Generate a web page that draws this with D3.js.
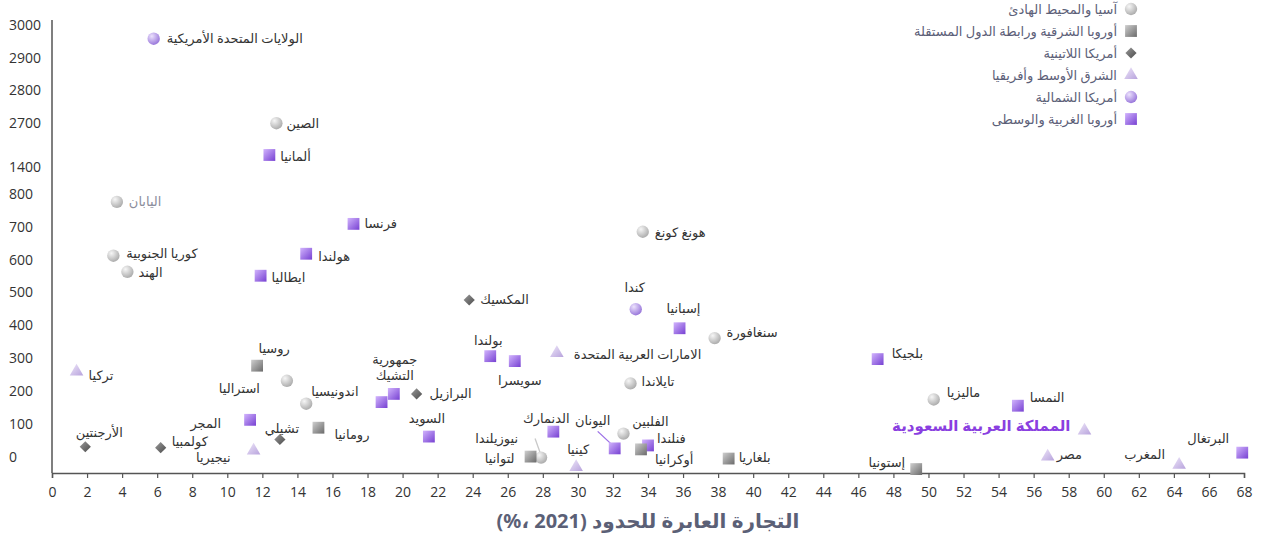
<!DOCTYPE html>
<html lang="ar">
<head>
    <meta charset="UTF-8">
    <title>التجارة العابرة للحدود</title>
    <script src="https://cdn.jsdelivr.net/npm/d3@7.8.5/dist/d3.min.js"></script>
    <style>
        body { margin: 0; background: #fff; }
        text { font-family: "Noto Sans", "DejaVu Sans", sans-serif; }
    </style>
</head>
<body>
<div id="chart"></div>
<script type="text/javascript">
    // regions (legend order)
    const regions = ["asia", "easteu", "latam", "mea", "namerica", "westeu"];
    const regionNames = ["آسيا والمحيط الهادئ", "أوروبا الشرقية ورابطة الدول المستقلة", "أمريكا اللاتينية",
        "الشرق الأوسط وأفريقيا", "أمريكا الشمالية", "أوروبا الغربية والوسطى"];

    // countries: name, region, cross-border trade (% 2021), value
    const countries = ["الولايات المتحدة الأمريكية", "الصين", "ألمانيا", "اليابان", "فرنسا", "كوريا الجنوبية",
        "هولندا", "الهند", "ايطاليا", "هونغ كونغ", "المكسيك", "كندا", "إسبانيا", "سنغافورة", "بلجيكا",
        "بولندا", "سويسرا", "الامارات العربية المتحدة", "تايلاندا", "تركيا", "روسيا", "استراليا",
        "اندونيسيا", "جمهورية التشيك", "", "البرازيل", "السويد", "المجر", "رومانيا", "تشيلي", "نيجيريا",
        "كولمبيا", "الأرجنتين", "الدنمارك", "اليونان", "الفلبين", "فنلندا", "أوكرانيا", "بلغاريا", "كينيا",
        "نيوزيلندا", "لتوانيا", "إستونيا", "ماليزيا", "النمسا", "المملكة العربية السعودية", "مصر",
        "المغرب", "البرتغال"];
    const countryRegion = ["namerica", "asia", "westeu", "asia", "westeu", "asia",
        "westeu", "asia", "westeu", "asia", "latam", "namerica", "westeu", "asia", "westeu",
        "westeu", "westeu", "mea", "asia", "mea", "easteu", "asia",
        "asia", "westeu", "westeu", "latam", "westeu", "westeu", "easteu", "latam", "mea",
        "latam", "latam", "westeu", "westeu", "asia", "westeu", "easteu", "easteu", "mea",
        "asia", "easteu", "easteu", "asia", "westeu", "mea", "mea",
        "mea", "westeu"];
    const crossBorder = [5.8, 12.8, 12.4, 3.7, 17.2, 3.5,
        14.5, 4.3, 11.9, 33.7, 23.8, 33.3, 35.8, 37.8, 47.1,
        25.0, 26.4, 28.8, 33.0, 1.4, 11.7, 13.4,
        14.5, 19.5, 18.8, 20.8, 21.5, 11.3, 15.2, 13.0, 11.5,
        6.2, 1.9, 28.6, 32.1, 32.6, 34.0, 33.6, 38.6, 29.9,
        27.9, 27.3, 49.3, 50.3, 55.1, 58.9, 56.8,
        64.3, 67.9];
    const values = [2958, 2694, 1755, 776, 709, 612,
        618, 563, 551, 685, 477, 449, 391, 361, 297,
        306, 291, 315, 223, 259, 277, 231,
        161, 191, 166, 191, 61, 112, 88, 52, 18,
        27, 30, 76, 25, 70, 34, 22, -6, -32,
        -3, 0, -38, 174, 155, 79, 0,
        -25, 12];

    const xTicks = d3.range(0, 69, 2);
    const yTicks = [0, 100, 200, 300, 400, 500, 600, 700, 800, 1400, 2700, 2800, 2900, 3000];
    const xTitle = "التجارة العابرة للحدود";
    // unit part, in visual left-to-right order
    const xUnitParts = ["(", "%", "،", "\u00a02021", ")"];

    // label placement: [anchor, dx, dy]  (anchor: l = left edge, r = right edge, m = middle)
    const labelPos = {
        "الولايات المتحدة الأمريكية": ["l", 13, 0], "الصين": ["l", 10, 0], "ألمانيا": ["l", 11, 1],
        "اليابان": ["l", 12, 0], "فرنسا": ["l", 11, 0], "كوريا الجنوبية": ["l", 13, -2],
        "هولندا": ["l", 12, 3], "الهند": ["l", 11, 1], "ايطاليا": ["l", 11, 2], "هونغ كونغ": ["l", 12, 1],
        "المكسيك": ["l", 11, -1], "كندا": ["m", -1, -22], "إسبانيا": ["m", 4, -20], "سنغافورة": ["l", 12, -6],
        "بلجيكا": ["l", 14, -6], "بولندا": ["m", -2, -16], "سويسرا": ["m", 5, 19],
        "الامارات العربية المتحدة": ["l", 17, 1], "تايلاندا": ["l", 11, -2], "تركيا": ["l", 12, 4],
        "روسيا": ["m", 17, -17], "استراليا": ["r", -27, 8], "اندونيسيا": ["l", 5, -12],
        "البرازيل": ["l", 13, 0], "السويد": ["m", -2, -18],
        "المجر": ["r", -29, 4], "رومانيا": ["l", 16, 7], "تشيلي": ["m", 2, -11], "نيجيريا": ["r", -23, 7],
        "كولمبيا": ["l", 11, -6], "الأرجنتين": ["m", 14, -14], "الدنمارك": ["m", -7, -13],
        "اليونان": ["m", -22, -28], "الفلبين": ["m", 27, -12], "فنلندا": ["l", 9, -7],
        "أوكرانيا": ["l", 14, 10], "بلغاريا": ["l", 10, -1], "كينيا": ["m", 2, -18],
        "نيوزيلندا": ["r", -23, -19], "لتوانيا": ["r", -16, 2], "إستونيا": ["r", -11, -7],
        "ماليزيا": ["l", 13, -7], "النمسا": ["l", 12, -8], "المملكة العربية السعودية": ["r", -14, -5],
        "مصر": ["l", 9, -2], "المغرب": ["r", -14, -10], "البرتغال": ["r", -13, -14]
    };
    // two-line label
    const czechLines = [["جمهورية", 1, -34], ["التشيك", 1, -18]];
    const leaders = {"اليونان": [[-17, -17], [-2, -3]], "نيوزيلندا": [[-6, -19], [-1, -5]]};

    const data = countries.map((name, i) => ({name, region: countryRegion[i], x: crossBorder[i], y: values[i]}));

    const width = 1267, height = 534;
    const x = d3.scaleLinear().domain([0, 68]).range([52, 1244]);
    const y = d3.scaleLinear().domain([-50, 800, 1400, 2700, 3000]).range([473, 194, 167, 123, 25]);

    const svg = d3.select("#chart").append("svg")
        .attr("width", width).attr("height", height);

    // gradients for the 3D-ish markers
    const defs = svg.append("defs");
    const grad = {
        asia: ["#f6f6f6", "#a9a9a9", "radial"],
        easteu: ["#cfcfcf", "#6a6a6a", "linear"],
        latam: ["#9a9a9a", "#4a4a4a", "linear"],
        mea: ["#efe8fa", "#b7a2dc", "linear"],
        namerica: ["#ece2fd", "#9572d9", "radial"],
        westeu: ["#d2b4fd", "#7640d2", "linear"]
    };
    regions.forEach(r => {
        const [c1, c2, type] = grad[r];
        const g = type === "radial"
            ? defs.append("radialGradient").attr("id", "g-" + r).attr("cx", "35%").attr("cy", "30%").attr("r", "75%")
            : defs.append("linearGradient").attr("id", "g-" + r).attr("x1", "0").attr("y1", "0").attr("x2", "1").attr("y2", "1");
        g.append("stop").attr("offset", "0%").attr("stop-color", c1);
        g.append("stop").attr("offset", "100%").attr("stop-color", c2);
    });
    const shape = {
        asia: d3.symbol(d3.symbolCircle, 120), easteu: d3.symbol(d3.symbolSquare, 140),
        latam: d3.symbol(d3.symbolDiamond2, 80), mea: d3.symbol(d3.symbolTriangle, 80),
        namerica: d3.symbol(d3.symbolCircle, 120), westeu: d3.symbol(d3.symbolSquare, 140)
    };

    // axes
    const gx = svg.append("g").attr("transform", `translate(0,${y(-50)})`)
        .call(d3.axisBottom(x).tickValues(xTicks).tickSize(5).tickPadding(9));
    gx.select(".domain").attr("stroke", "#555").attr("stroke-width", 1.5);
    gx.selectAll(".tick line").attr("stroke", "#555").attr("stroke-width", 1.2);
    gx.selectAll(".tick text").attr("font-size", 14).attr("fill", "#333")
        .style("font-family", "'Open Sans', sans-serif");

    const gy = svg.append("g").attr("transform", `translate(${x(0)},0)`)
        .call(d3.axisLeft(y).tickValues(yTicks).tickSize(0).tickFormat(d3.format("d")));
    gy.select(".domain").attr("d", `M0,${y(-50)}V${y(3015)}`).attr("stroke", "#555").attr("stroke-width", 1.5);
    gy.selectAll(".tick text").attr("x", -43).attr("text-anchor", "start")
        .attr("font-size", 14).attr("fill", "#333").style("font-family", "'Open Sans', sans-serif");

    // x title: pieces laid out left to right so the bracket keeps its order
    const gt = svg.append("g").attr("font-size", 20).attr("font-weight", "bold").attr("fill", "#5b6076");
    const pieces = xUnitParts.concat(["\u00a0" + xTitle]);
    const tEls = pieces.map(p => gt.append("text").attr("y", 528).text(p));
    const widths = tEls.map(t => t.node().getComputedTextLength());
    let cx = 648 - d3.sum(widths) / 2;
    tEls.forEach((t, i) => { t.attr("x", cx); cx += widths[i]; });

    // leader lines
    data.filter(d => leaders[d.name]).forEach(d => {
        const [[ax, ay], [bx, by]] = leaders[d.name];
        svg.append("line")
            .attr("x1", x(d.x) + ax).attr("y1", y(d.y) + ay)
            .attr("x2", x(d.x) + bx).attr("y2", y(d.y) + by)
            .attr("stroke", d.region === "westeu" ? "#9b6ee6" : "#c9c9c9").attr("stroke-width", 1.3);
    });

    // markers
    svg.append("g").selectAll("path").data(data).join("path")
        .attr("d", d => shape[d.region]())
        .attr("transform", d => `translate(${x(d.x)},${y(d.y)})`)
        .attr("fill", d => `url(#g-${d.region})`);

    // labels
    const anchor = {l: "start", r: "end", m: "middle"};
    const saudi = "المملكة العربية السعودية";
    svg.append("g").selectAll("text").data(data.filter(d => labelPos[d.name])).join("text")
        .attr("x", d => x(d.x) + labelPos[d.name][1])
        .attr("y", d => y(d.y) + labelPos[d.name][2])
        .attr("dy", "0.35em")
        .attr("text-anchor", d => anchor[labelPos[d.name][0]])
        .attr("font-size", d => d.name === saudi ? 15 : 13)
        .attr("font-weight", d => d.name === saudi ? "bold" : "normal")
        .attr("fill", d => d.name === saudi ? "#8a3fe0" : (d.name === "اليابان" ? "#8b8e9c" : "#333"))
        .text(d => d.name);

    const czech = data.find(d => d.name === "جمهورية التشيك");
    svg.append("g").selectAll("text").data(czechLines).join("text")
        .attr("x", l => x(czech.x) + l[1])
        .attr("y", l => y(czech.y) + l[2])
        .attr("dy", "0.35em").attr("text-anchor", "middle")
        .attr("font-size", 13).attr("fill", "#333")
        .text(l => l[0]);

    // legend
    const legend = svg.append("g").selectAll("g").data(regions).join("g")
        .attr("transform", (d, i) => `translate(1131,${9 + i * 22})`);
    legend.append("path").attr("d", d => shape[d]()).attr("fill", d => `url(#g-${d})`);
    legend.append("text").attr("x", -14).attr("dy", "0.35em").attr("text-anchor", "end")
        .attr("font-size", 13).attr("fill", "#5c6078")
        .text((d, i) => regionNames[i]);
</script>
</body>
</html>
